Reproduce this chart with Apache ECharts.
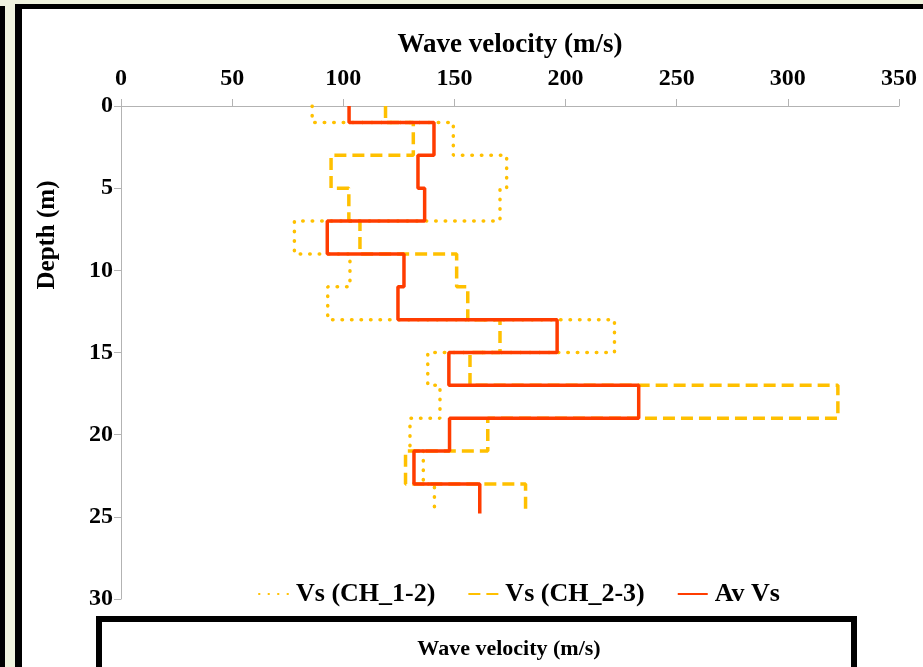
<!DOCTYPE html>
<html>
<head>
<meta charset="utf-8">
<script src="https://cdn.jsdelivr.net/npm/echarts@6/dist/echarts.min.js"></script>
<style>
html,body{margin:0;padding:0;background:#f0f3de;}
#chart{width:923px;height:667px;}
</style>
</head>
<body>
<div id="chart"></div>
<script>
// Layer boundaries (depth, m)
var layerBounds = [0, 1, 3, 5, 7, 9, 11, 13, 15, 17, 19, 21, 23, 24.8];
// Shear wave velocity per layer (m/s)
var vsCH12 = [86, 149.5, 173.5, 170.5, 78, 103, 93, 222, 138, 143.5, 130, 136, 141];
var vsCH23 = [119, 131.5, 94.5, 102.5, 107.5, 151, 156, 170.5, 157, 322.5, 165, 128, 182];
var avVs   = [102.6, 140.8, 133.6, 136.6, 92.8, 127.3, 124.6, 196.2, 147.5, 232.9, 147.8, 131.8, 161.4];
var seriesNames = ['Vs (CH_1-2)', 'Vs (CH_2-3)', 'Av Vs'];
var xTicks = [0, 50, 100, 150, 200, 250, 300, 350];
var yTicks = [0, 5, 10, 15, 20, 25, 30];

function stepPoints(vals) {
  var pts = [];
  for (var i = 0; i < vals.length; i++) {
    pts.push([vals[i], layerBounds[i]]);
    pts.push([vals[i], layerBounds[i + 1]]);
  }
  return pts;
}

var FONT = '"Liberation Serif", "Times New Roman", serif';
var chart = echarts.init(document.getElementById('chart'), null, {renderer: 'canvas'});
var option = {
  animation: false,
  backgroundColor: '#f0f3de',
  graphic: [
    {type: 'rect', z: -100, shape: {x: 0, y: 6, width: 5, height: 700}, style: {fill: '#000'}},
    {type: 'rect', z: -100, shape: {x: 15, y: 4, width: 920, height: 700}, style: {fill: '#000'}},
    {type: 'rect', z: -99, shape: {x: 22, y: 9, width: 910, height: 700}, style: {fill: '#fff'}},
    {type: 'rect', z: 50, shape: {x: 96, y: 616, width: 761, height: 60}, style: {fill: '#000'}},
    {type: 'rect', z: 51, shape: {x: 102, y: 622, width: 749, height: 60}, style: {fill: '#fff'}},
    {type: 'text', z: 52, x: 509, y: 649, style: {text: 'Wave velocity (m/s)', font: 'bold 22px ' + FONT, fill: '#000', align: 'center', verticalAlign: 'middle'}},
    {type: 'text', z: 52, x: 48, y: 235, rotation: Math.PI / 2, style: {text: 'Depth (m)', font: 'bold 25px ' + FONT, fill: '#000', align: 'center', verticalAlign: 'middle'}}
  ],
  grid: {left: 121, right: 24, top: 106, bottom: 68},
  legend: {
    data: seriesNames,
    top: 576,
    left: 253,
    itemWidth: 30,
    itemHeight: 4,
    itemGap: 32,
    itemStyle: {opacity: 0},
    textStyle: {fontFamily: FONT, fontWeight: 'bold', fontSize: 26, color: '#000', padding: [0, 0, 0, 2]}
  },
  xAxis: {
    type: 'value',
    position: 'top',
    min: xTicks[0], max: xTicks[xTicks.length - 1], interval: 50,
    name: 'Wave velocity (m/s)',
    nameLocation: 'middle',
    nameGap: 47,
    nameTextStyle: {fontFamily: FONT, fontWeight: 'bold', fontSize: 27, color: '#000'},
    axisLine: {lineStyle: {color: '#b3b3b3', width: 1}},
    axisTick: {show: true, inside: false, length: 7, lineStyle: {color: '#b3b3b3'}},
    axisLabel: {fontFamily: FONT, fontWeight: 'bold', fontSize: 24, color: '#000', margin: 15},
    splitLine: {show: false}
  },
  yAxis: {
    type: 'value',
    inverse: true,
    min: yTicks[0], max: yTicks[yTicks.length - 1], interval: 5,
    axisLine: {show: true, lineStyle: {color: '#b3b3b3', width: 1}},
    axisTick: {show: true, inside: false, length: 7, lineStyle: {color: '#b3b3b3'}},
    axisLabel: {fontFamily: FONT, fontWeight: 'bold', fontSize: 24, color: '#000', margin: 8},
    splitLine: {show: false}
  },
  series: [
    {
      name: seriesNames[0], type: 'line', symbol: 'none', z: 2,
      data: stepPoints(vsCH12),
      lineStyle: {color: '#FFC000', width: 3.5, type: [0.5, 9], cap: 'round'},
      itemStyle: {color: '#FFC000'}
    },
    {
      name: seriesNames[1], type: 'line', symbol: 'none', z: 3,
      data: stepPoints(vsCH23),
      lineStyle: {color: '#FFC000', width: 3.5, type: [12, 6]},
      itemStyle: {color: '#FFC000'}
    },
    {
      name: seriesNames[2], type: 'line', symbol: 'none', z: 4,
      data: stepPoints(avVs),
      lineStyle: {color: '#FF3C00', width: 3.5},
      itemStyle: {color: '#FF3C00'}
    }
  ]
};
chart.setOption(option);
</script>
</body>
</html>
